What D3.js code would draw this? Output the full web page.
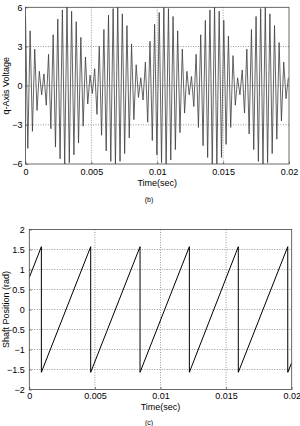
<!DOCTYPE html>
<html>
<head>
<meta charset="utf-8">
<script src="https://cdn.jsdelivr.net/npm/d3@7"></script>
<style>
    body { margin: 0; background: #fff; }
    svg { display: block; font-family: "Liberation Sans", Arial, sans-serif; }
</style>
</head>
<body>
<script>
// ---- data ----
// (b) q-axis voltage: successive extrema of the oscillation, one every qStep seconds
const qStep = 0.000175;
const qPeaks = [
    5.3, -4.8, 4.2, -3.5, 2.8, -1.9, 1.1, -0.7, 0.9, -1.5,
    2.4, -3.3, 3.9, -4.7, 5.1, -5.6, 5.8, -6.0, 6.1, -5.9,
    5.7, -5.3, 4.9, -4.4, 3.7, -3.1, 2.2, -1.4, 0.8, -0.6,
    1.3, -2.2, 3.0, -3.8, 4.3, -5.0, 5.4, -5.8, 5.9, -6.1,
    6.0, -5.8, 5.5, -5.2, 4.6, -4.0, 3.2, -2.6, 1.6, -0.9,
    0.6, -1.1, 1.8, -2.8, 3.4, -4.2, 4.7, -5.3, 5.6, -5.9,
    6.0, -6.1, 5.9, -5.7, 5.3, -4.9, 4.2, -3.6, 2.8, -2.1,
    1.1, -0.7, 0.7, -1.6, 2.4, -3.2, 3.9, -4.6, 5.0, -5.5,
    5.8, -6.0, 6.1, -6.0, 5.7, -5.5, 5.0, -4.5, 3.8, -3.2,
    2.3, -1.5, 0.6, -0.7, 1.2, -2.1, 2.8, -3.7, 4.3, -4.9,
    5.3, -5.8, 5.9, -6.1, 6.0, -5.9, 5.5, -5.2, 4.6, -4.1,
    3.3, -2.7, 1.8, -1.0, 0.6
];
const qTicksX = [0, 0.005, 0.01, 0.015, 0.02];
const qTicksY = [-6, -3, 0, 3, 6];

// (c) shaft position: corners of the sawtooth
const shaftTime = [0, 0.00092, 0.00092, 0.00468, 0.00468, 0.00844, 0.00844,
    0.0122, 0.0122, 0.01593, 0.01593, 0.0197, 0.0197, 0.02];
const shaftAngle = [0.8, 1.57, -1.57, 1.57, -1.57, 1.57, -1.57,
    1.57, -1.57, 1.57, -1.57, 1.57, -1.57, -1.33];
const shaftTicksX = [0, 0.005, 0.01, 0.015, 0.02];
const shaftTicksY = [-2, -1.5, -1, -0.5, 0, 0.5, 1, 1.5, 2];

const svg = d3.select("body").append("svg")
    .attr("width", 300)
    .attr("height", 426);

function draw_panel(opts) {
    const x = d3.scaleLinear().domain(opts.xDomain).range([opts.left, opts.right]);
    const y = d3.scaleLinear().domain(opts.yDomain).range([opts.bottom, opts.top]);
    const g = svg.append("g").attr("class", opts.name);

    g.append("clipPath").attr("id", opts.name + "_clip")
        .append("rect")
        .attr("x", opts.left).attr("y", opts.top)
        .attr("width", opts.right - opts.left)
        .attr("height", opts.bottom - opts.top);

    // dotted grid
    g.selectAll(".vgrid").data(opts.xTicks.slice(1, -1)).enter().append("line")
        .attr("x1", d => x(d)).attr("x2", d => x(d))
        .attr("y1", opts.top).attr("y2", opts.bottom)
        .attr("stroke", "#555").attr("stroke-width", 0.6)
        .attr("stroke-dasharray", "1,1.5");
    g.selectAll(".hgrid").data(opts.yTicks.slice(1, -1)).enter().append("line")
        .attr("x1", opts.left).attr("x2", opts.right)
        .attr("y1", d => y(d)).attr("y2", d => y(d))
        .attr("stroke", "#555").attr("stroke-width", 0.6)
        .attr("stroke-dasharray", "1,1.5");

    // the trace
    g.append("path")
        .datum(opts.points)
        .attr("clip-path", "url(#" + opts.name + "_clip)")
        .attr("fill", "none")
        .attr("stroke", opts.lineColor)
        .attr("stroke-width", opts.lineWidth)
        .attr("d", d3.line().x(d => x(d[0])).y(d => y(d[1])));

    // axes, ticks pointing inwards like matlab
    const xAxis = g.append("g")
        .attr("transform", "translate(0," + opts.bottom + ")")
        .call(d3.axisBottom(x).tickValues(opts.xTicks).tickFormat(d3.format("~g"))
            .tickSize(-2.5).tickPadding(opts.xPad));
    const yAxis = g.append("g")
        .attr("transform", "translate(" + opts.left + ",0)")
        .call(d3.axisLeft(y).tickValues(opts.yTicks).tickFormat(d3.format("~g"))
            .tickSize(-2.5).tickPadding(opts.yPad));
    [xAxis, yAxis].forEach(a => {
        a.select(".domain").remove();
        a.selectAll("line").attr("stroke", "#333").attr("stroke-width", 0.6);
        a.selectAll("text").attr("font-size", 9).attr("fill", "#000")
            .attr("font-family", "'Liberation Sans', Arial, sans-serif");
    });

    // frame
    g.append("rect")
        .attr("x", opts.left).attr("y", opts.top)
        .attr("width", opts.right - opts.left)
        .attr("height", opts.bottom - opts.top)
        .attr("fill", "none").attr("stroke", "#444").attr("stroke-width", 0.8);

    g.append("text")
        .attr("x", (opts.left + opts.right) / 2).attr("y", opts.xLabelY)
        .attr("text-anchor", "middle").attr("font-size", 9)
        .text("Time(sec)");
    g.append("text")
        .attr("transform", "translate(" + opts.yLabelX + "," + ((opts.top + opts.bottom) / 2) + ") rotate(-90)")
        .attr("text-anchor", "middle").attr("font-size", 9)
        .text(opts.yLabel);
    g.append("text")
        .attr("x", 149).attr("y", opts.captionY)
        .attr("text-anchor", "middle").attr("font-size", 7)
        .text(opts.caption);
}

draw_panel({
    name: "qvolt",
    points: qPeaks.map((v, i) => [i * qStep, v]),
    xDomain: [0, 0.02], yDomain: [-6, 6],
    xTicks: qTicksX, yTicks: qTicksY,
    left: 25.5, right: 289, top: 7.3, bottom: 164,
    xPad: 4.5, yPad: 3, lineWidth: 0.8, lineColor: "#3c3c3c",
    xLabelY: 186, yLabelX: 8.5, yLabel: "q-Axis Voltage",
    captionY: 202, caption: "(b)"
});

draw_panel({
    name: "shaft",
    points: shaftTime.map((t, i) => [t, shaftAngle[i]]),
    xDomain: [0, 0.02], yDomain: [-2, 2],
    xTicks: shaftTicksX, yTicks: shaftTicksY,
    left: 29.3, right: 291.7, top: 229.5, bottom: 389.5,
    xPad: 3, yPad: 4.5, lineWidth: 1, lineColor: "#000",
    xLabelY: 410, yLabelX: 8.5, yLabel: "Shaft Position (rad)",
    captionY: 425, caption: "(c)"
});
</script>
</body>
</html>
